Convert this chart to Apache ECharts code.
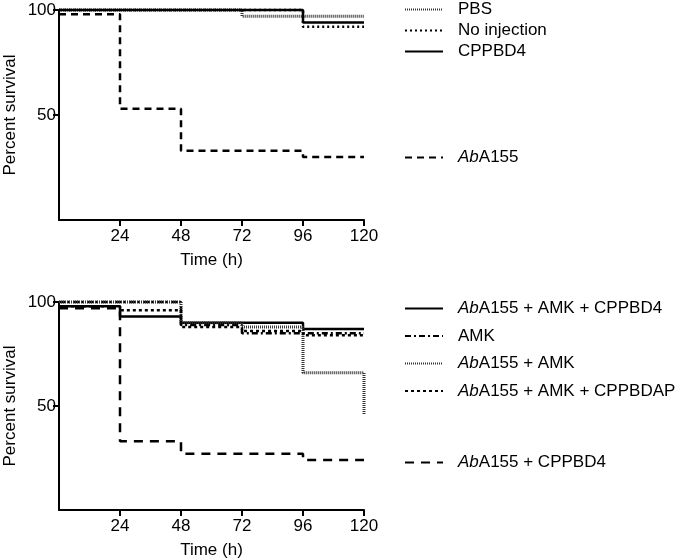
<!DOCTYPE html>
<html>
<head>
<meta charset="utf-8">
<script src="https://cdn.jsdelivr.net/npm/echarts@6/dist/echarts.min.js"></script>
<style>
  html, body { margin: 0; padding: 0; background: #fff; }
  #chart { width: 680px; height: 559px; }
</style>
</head>
<body>
<div id="chart"></div>
<script>
  // time points (h), value at index i holds until the next time point
  const hours = [0, 24, 48, 72, 96, 120];
  const xTicks = [24, 48, 72, 96, 120];
  const yTicks = [50, 100];

  // top panel
  const topPBS = [100, 100, 100, 97, 97, 97];
  const topNoInjection = [100, 100, 100, 100, 92, 92];
  const topCPPBD4 = [100, 100, 100, 100, 94, 94];
  const topAbA155 = [98, 53, 33, 33, 30, 30];

  // bottom panel
  const botAmkCppbd4 = [98, 93, 90, 90, 87, 87];
  const botAmk = [100, 100, 89, 85, 85, 85];
  const botAbAmk = [100, 100, 90, 88, 66, 46];
  const botAmkCppbdap = [98, 96, 88, 86, 84, 84];
  const botAbCppbd4 = [97, 33, 27, 27, 24, 24];

  const font = 'Liberation Sans, Arial, sans-serif';
  const fs = 17;
  const rich = { i: { fontStyle: 'italic', fontSize: fs, fontFamily: font, color: '#000' } };
  const fmt = function (name) {
    return name.replace('Ab', '{i|Ab}');
  };

  function pts(vals) {
    return hours.map(function (h, i) { return [h, vals[i]]; });
  }

  function line(name, vals, idx, type, color, width) {
    return {
      name: name,
      type: 'line',
      step: 'end',
      xAxisIndex: idx,
      yAxisIndex: idx,
      showSymbol: false,
      symbol: 'none',
      clip: false,
      animation: false,
      itemStyle: { color: color || '#000' },
      lineStyle: { color: color || '#000', width: width || 2.5, type: type },
      data: pts(vals)
    };
  }

  function xAx(idx) {
    return {
      type: 'value', gridIndex: idx, min: 0, max: 120,
      name: 'Time (h)', nameLocation: 'middle', nameGap: 32,
      nameTextStyle: { fontSize: fs, fontFamily: font, color: '#000' },
      axisLine: { lineStyle: { color: '#000', width: 2 } },
      axisTick: { customValues: xTicks, length: 6, lineStyle: { color: '#000', width: 2 } },
      axisLabel: { customValues: xTicks, fontSize: fs, fontFamily: font, color: '#000', margin: 8 },
      splitLine: { show: false }
    };
  }

  function yAx(idx) {
    return {
      type: 'value', gridIndex: idx, min: 0, max: 100,
      name: 'Percent survival', nameLocation: 'middle', nameGap: 40,
      nameTextStyle: { fontSize: fs, fontFamily: font, color: '#000' },
      axisLine: { show: true, lineStyle: { color: '#000', width: 2 } },
      axisTick: { show: true, customValues: yTicks, length: 6, lineStyle: { color: '#000', width: 2 } },
      axisLabel: { customValues: yTicks, fontSize: fs, fontFamily: font, color: '#000', margin: 3 },
      splitLine: { show: false }
    };
  }

  function leg(names, top, gap) {
    return {
      data: names, orient: 'vertical', left: 404, top: top, itemGap: gap,
      itemWidth: 38, itemHeight: 14, padding: 0,
      itemStyle: { opacity: 0 },
      textStyle: { fontSize: fs, fontFamily: font, color: '#000', rich: rich, padding: [0, 0, 0, 10] },
      formatter: fmt, selectedMode: false
    };
  }

  const fine = [1, 1];
  const dotted = [2, 3];
  const dashed = [7, 5];
  const longDash = [9, 7];
  const dashDot = [6, 3, 2, 3];
  const shortDash = [3, 3];

  let chart = echarts.init(document.getElementById('chart'));
  let options = {
    backgroundColor: '#fff',
    animation: false,
    grid: [
      { left: 59, top: 10, width: 305, height: 210, containLabel: false, outerBoundsMode: 'none' },
      { left: 59, top: 302, width: 305, height: 208, containLabel: false, outerBoundsMode: 'none' }
    ],
    xAxis: [xAx(0), xAx(1)],
    yAxis: [yAx(0), yAx(1)],
    legend: [
      leg(['PBS', 'No injection', 'CPPBD4'], 1, 4),
      leg(['AbA155'], 149, 3),
      leg(['AbA155 + AMK + CPPBD4', 'AMK', 'AbA155 + AMK', 'AbA155 + AMK + CPPBDAP'], 300, 10.5),
      leg(['AbA155 + CPPBD4'], 454, 3)
    ],
    series: [
      line('PBS', topPBS, 0, fine, '#333', 3),
      line('No injection', topNoInjection, 0, dotted),
      line('CPPBD4', topCPPBD4, 0, 'solid'),
      line('AbA155', topAbA155, 0, dashed),
      line('AbA155 + AMK + CPPBD4', botAmkCppbd4, 1, 'solid'),
      line('AMK', botAmk, 1, dashDot),
      line('AbA155 + AMK', botAbAmk, 1, fine, '#333', 3),
      line('AbA155 + AMK + CPPBDAP', botAmkCppbdap, 1, shortDash),
      line('AbA155 + CPPBD4', botAbCppbd4, 1, longDash)
    ]
  };
  chart.setOption(options);
</script>
</body>
</html>
